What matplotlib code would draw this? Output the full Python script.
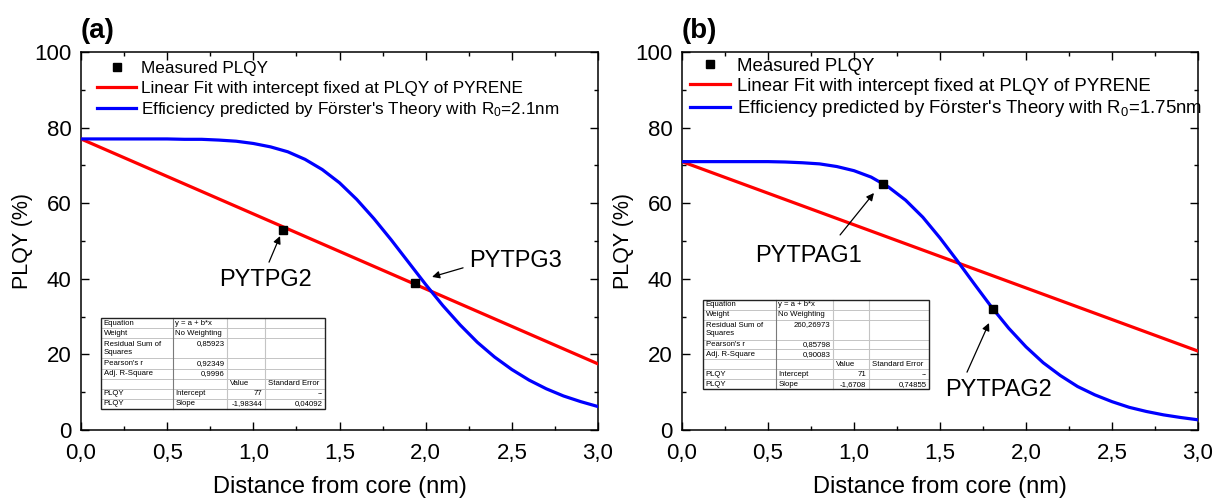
import numpy as np
import matplotlib
matplotlib.use("Agg")
import matplotlib.pyplot as plt
from matplotlib.ticker import MultipleLocator, FuncFormatter
from matplotlib.patches import Rectangle
from matplotlib.lines import Line2D

plt.rcParams["font.family"] = ["Liberation Sans", "DejaVu Sans"]
plt.rcParams["mathtext.fontset"] = "custom"
plt.rcParams["mathtext.rm"] = "Liberation Sans"
plt.rcParams["mathtext.it"] = "Liberation Sans:italic"

# ---------------- data ----------------
# measured PLQY vs. distance from pyrene core (nm)
meas_dist_a = [1.17, 1.94]
meas_plqy_a = [53, 39]
meas_names_a = ["PYTPG2", "PYTPG3"]

meas_dist_b = [1.17, 1.81]
meas_plqy_b = [65, 32]
meas_names_b = ["PYTPAG1", "PYTPAG2"]

# linear fits (slope given per Angstrom)
fit_intercept_a = 77
fit_slope_a = -1.98344
fit_intercept_b = 71
fit_slope_b = -1.6708

# Foerster-predicted efficiency curves, sampled every 0.1 nm from 0 to 3 nm
curve_dist = [round(0.1 * i, 1) for i in range(31)]
forster_a = [77.0, 77.0, 77.0, 77.0, 77.0, 77.0, 76.9, 76.9, 76.7, 76.4,
             75.8, 74.9, 73.6, 71.6, 68.9, 65.4, 61.0, 55.9, 50.3, 44.4,
             38.5, 32.9, 27.8, 23.2, 19.3, 16.0, 13.2, 10.9, 9.0, 7.5, 6.2]
forster_b = [71.0, 71.0, 71.0, 71.0, 71.0, 71.0, 70.9, 70.7, 70.4, 69.7,
             68.6, 66.9, 64.3, 60.8, 56.3, 50.8, 44.8, 38.6, 32.5, 26.9,
             22.0, 17.8, 14.4, 11.5, 9.3, 7.5, 6.0, 4.9, 4.0, 3.3, 2.7]
r0_a = "2.1"
r0_b = "1.75"

table_a = [
    ["Equation", "y = a + b*x", "", ""],
    ["Weight", "No Weighting", "", ""],
    ["Residual Sum of\nSquares", "0,85923", "", ""],
    ["Pearson's r", "0,92349", "", ""],
    ["Adj. R-Square", "0,9996", "", ""],
    ["", "", "Value", "Standard Error"],
    ["PLQY", "Intercept", "77", "--"],
    ["PLQY", "Slope", "-1,98344", "0,04092"],
]
table_b = [
    ["Equation", "y = a + b*x", "", ""],
    ["Weight", "No Weighting", "", ""],
    ["Residual Sum of\nSquares", "260,26973", "", ""],
    ["Pearson's r", "0,85798", "", ""],
    ["Adj. R-Square", "0,90083", "", ""],
    ["", "", "Value", "Standard Error"],
    ["PLQY", "Intercept", "71", "--"],
    ["PLQY", "Slope", "-1,6708", "0,74855"],
]

# ---------------- figure ----------------
W, H = 1215, 500
fig = plt.figure(figsize=(W / 100, H / 100), dpi=100)


def px_axes(l, t, r, b):
    return fig.add_axes([l / W, 1 - b / H, (r - l) / W, (b - t) / H])


ax_a = px_axes(81, 52, 598, 430)
ax_b = px_axes(682, 52, 1198, 430)

xfmt = FuncFormatter(lambda v, p: f"{v:.1f}".replace(".", ","))
yfmt = FuncFormatter(lambda v, p: f"{v:.0f}")


def style_axes(ax):
    ax.set_xlim(0, 3)
    ax.set_ylim(0, 100)
    ax.xaxis.set_major_locator(MultipleLocator(0.5))
    ax.xaxis.set_minor_locator(MultipleLocator(0.25))
    ax.yaxis.set_major_locator(MultipleLocator(20))
    ax.yaxis.set_minor_locator(MultipleLocator(10))
    ax.xaxis.set_major_formatter(xfmt)
    ax.yaxis.set_major_formatter(yfmt)
    ax.tick_params(which="both", direction="in", top=True, right=True,
                   width=1.0, labelsize=16)
    ax.tick_params(which="major", length=6)
    ax.tick_params(which="minor", length=3)
    ax.tick_params(axis="x", pad=9)
    ax.tick_params(axis="y", pad=7)
    for s in ax.spines.values():
        s.set_linewidth(1.1)
    ax.set_xlabel("Distance from core (nm)", fontsize=17, labelpad=9)
    ax.set_ylabel("PLQY (%)", fontsize=15.5, labelpad=1)


def draw_panel(ax, tag, md, mp, b0, b1, curve, r0, leg):
    style_axes(ax)
    xs = np.array([0.0, 3.0])
    fit = b0 + b1 * xs * 10  # slope per Angstrom, x in nm
    ax.plot(xs, fit, color="#ff0000", lw=2.3, zorder=3,
            label="Linear Fit with intercept fixed at PLQY of PYRENE")
    ax.plot(curve_dist, curve, color="#0000ff", lw=2.3, zorder=4,
            label="Efficiency predicted by Förster's Theory with R$_0$=" + r0 + "nm")
    ax.plot(md, mp, "s", color="black", ms=6, zorder=5, ls="none",
            label="Measured PLQY")
    h, l = ax.get_legend_handles_labels()
    order = [2, 0, 1]
    ax.legend([h[i] for i in order], [l[i] for i in order],
              loc="upper left", frameon=False, borderpad=0, borderaxespad=0,
              **leg)
    ax.text(0.0, 1.022, tag, transform=ax.transAxes, fontsize=20,
            fontweight="bold", ha="left", va="bottom")


draw_panel(ax_a, "(a)", meas_dist_a, meas_plqy_a,
           fit_intercept_a, fit_slope_a, forster_a, r0_a,
           dict(bbox_to_anchor=(0.031, 0.975), fontsize=12.3,
                handlelength=2.3, handletextpad=0.3, labelspacing=0.25))
draw_panel(ax_b, "(b)", meas_dist_b, meas_plqy_b,
           fit_intercept_b, fit_slope_b, forster_b, r0_b,
           dict(bbox_to_anchor=(0.0155, 0.985), fontsize=13.4,
                handlelength=2.15, handletextpad=0.37, labelspacing=0.17))

arrow = dict(arrowstyle="-|>", color="black", lw=0.9, mutation_scale=11,
             shrinkA=0, shrinkB=0)


def label_point(ax, name, text_xy, ha, tail, head):
    ax.annotate("", xy=head, xytext=tail, arrowprops=arrow, zorder=6)
    ax.text(text_xy[0], text_xy[1], name, fontsize=17, ha=ha, va="center")


label_point(ax_a, meas_names_a[0], (1.068, 39.7), "center", (1.091, 44.4), (1.155, 51.3))
label_point(ax_a, meas_names_a[1], (2.25, 44.6), "left", (2.217, 42.9), (2.037, 40.5))
label_point(ax_b, meas_names_b[0], (0.733, 46.0), "center", (0.919, 51.6), (1.116, 62.7))
label_point(ax_b, meas_names_b[1], (1.843, 10.6), "center", (1.657, 15.3), (1.785, 28.3))


# ---------------- fit-report tables ----------------
def draw_table(rows, left, top, col_w, unit):
    heights = [1, 1, 2, 1, 1, 1, 1, 1]
    xs = np.cumsum([left] + col_w)
    ys = np.cumsum([top] + [h * unit for h in heights])
    fx = lambda p: p / W
    fy = lambda p: 1 - p / H
    fig.add_artist(Rectangle((fx(xs[0]), fy(ys[-1])), fx(xs[-1] - xs[0]),
                             (ys[-1] - ys[0]) / H, facecolor="white",
                             edgecolor="none", zorder=10))
    for y in ys[1:-1]:
        fig.add_artist(Line2D([fx(xs[0]), fx(xs[-1])], [fy(y), fy(y)],
                              color="#c4c4c4", lw=0.7, zorder=11))
    for i, x in enumerate(xs[1:-1]):
        c = "#7a7a7a" if i == 0 else "#c4c4c4"
        fig.add_artist(Line2D([fx(x), fx(x)], [fy(ys[0]), fy(ys[-1])],
                              color=c, lw=0.8, zorder=11))
    fig.add_artist(Rectangle((fx(xs[0]), fy(ys[-1])), fx(xs[-1] - xs[0]),
                             (ys[-1] - ys[0]) / H, facecolor="none",
                             edgecolor="#222222", lw=1.0, zorder=12))
    for r, row in enumerate(rows):
        for c, txt in enumerate(row):
            if not txt:
                continue
            right = (c == 1 and r in (2, 3, 4)) or (c >= 2 and r >= 6)
            if right:
                x = xs[c + 1] - 2.5
                ha = "right"
            else:
                x = xs[c] + 2.5
                ha = "left"
            if "\n" in txt:
                y = ys[r] + unit
            else:
                y = ys[r] + unit / 2
            fig.text(fx(x), fy(y), txt, fontsize=5.6, ha=ha, va="center",
                     linespacing=1.25, zorder=13)


draw_table(table_a, 101, 318, [72, 54, 38, 60], 10.1)
draw_table(table_b, 703, 300, [73, 57, 36, 60], 9.9)

fig.savefig("out.png", dpi=100)
